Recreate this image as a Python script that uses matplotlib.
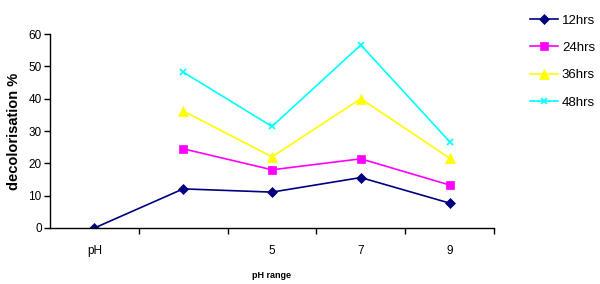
import matplotlib
matplotlib.use("Agg")
import matplotlib.pyplot as plt
import numpy as np

plt.rcParams['font.family'] = ['Liberation Sans', 'DejaVu Sans']

categories = ["pH", "", "5", "7", "9"]
hrs12 = [0, 12.1, 11.1, 15.6, 7.7]
hrs24 = [None, 24.5, 18.0, 21.4, 13.3]
hrs36 = [None, 36.2, 22.0, 40.0, 21.6]
hrs48 = [None, 48.2, 31.4, 56.6, 26.7]

series = [
    ("12hrs", hrs12, "#000080", "D", 5),
    ("24hrs", hrs24, "#FF00FF", "s", 5.5),
    ("36hrs", hrs36, "#FFFF00", "^", 6.5),
    ("48hrs", hrs48, "#00FFFF", "x", 5),
]

fig = plt.figure(figsize=(6, 2.84), dpi=100)
ax = fig.add_axes([50/600, 56/284, 444/600, 194/284])

x = np.arange(len(categories))
handles = []
for name, vals, col, mk, ms in series:
    xs = [xi for xi, v in zip(x, vals) if v is not None]
    ys = [v for v in vals if v is not None]
    h, = ax.plot(xs, ys, color=col, marker=mk, markersize=ms, linewidth=1.2,
                 markeredgewidth=1.2 if mk == "x" else 0.5, label=name)
    handles.append(h)

ax.set_xlim(-0.5, len(categories) - 0.5)
ax.set_ylim(0, 60)
ax.set_yticks(np.arange(0, 61, 10))
ax.set_xticks(x)
ax.set_xticklabels(categories)
ax.set_xticks(np.arange(0.5, len(categories) - 0.4, 1), minor=True)
ax.tick_params(axis='x', which='major', length=0, pad=12, labelsize=8.5)
ax.tick_params(axis='x', which='minor', length=4, width=1, direction='out')
ax.tick_params(axis='y', length=4, width=1, direction='out', labelsize=8.5, pad=2)

for s in ['top', 'right']:
    ax.spines[s].set_visible(False)
for s in ['left', 'bottom']:
    ax.spines[s].set_linewidth(1)

ax.set_ylabel("decolorisation %", fontsize=10.5, fontweight='bold', labelpad=5)
ax.set_xlabel("pH range", fontsize=6.5, fontweight='bold', labelpad=10)

leg = fig.legend(handles=handles, loc='upper left', bbox_to_anchor=(525/600, 1 - 9/284),
                 frameon=False, fontsize=9.5, handlelength=2.1, handletextpad=0.3,
                 labelspacing=1.15, borderaxespad=0)

fig.savefig("out.png", dpi=100)
